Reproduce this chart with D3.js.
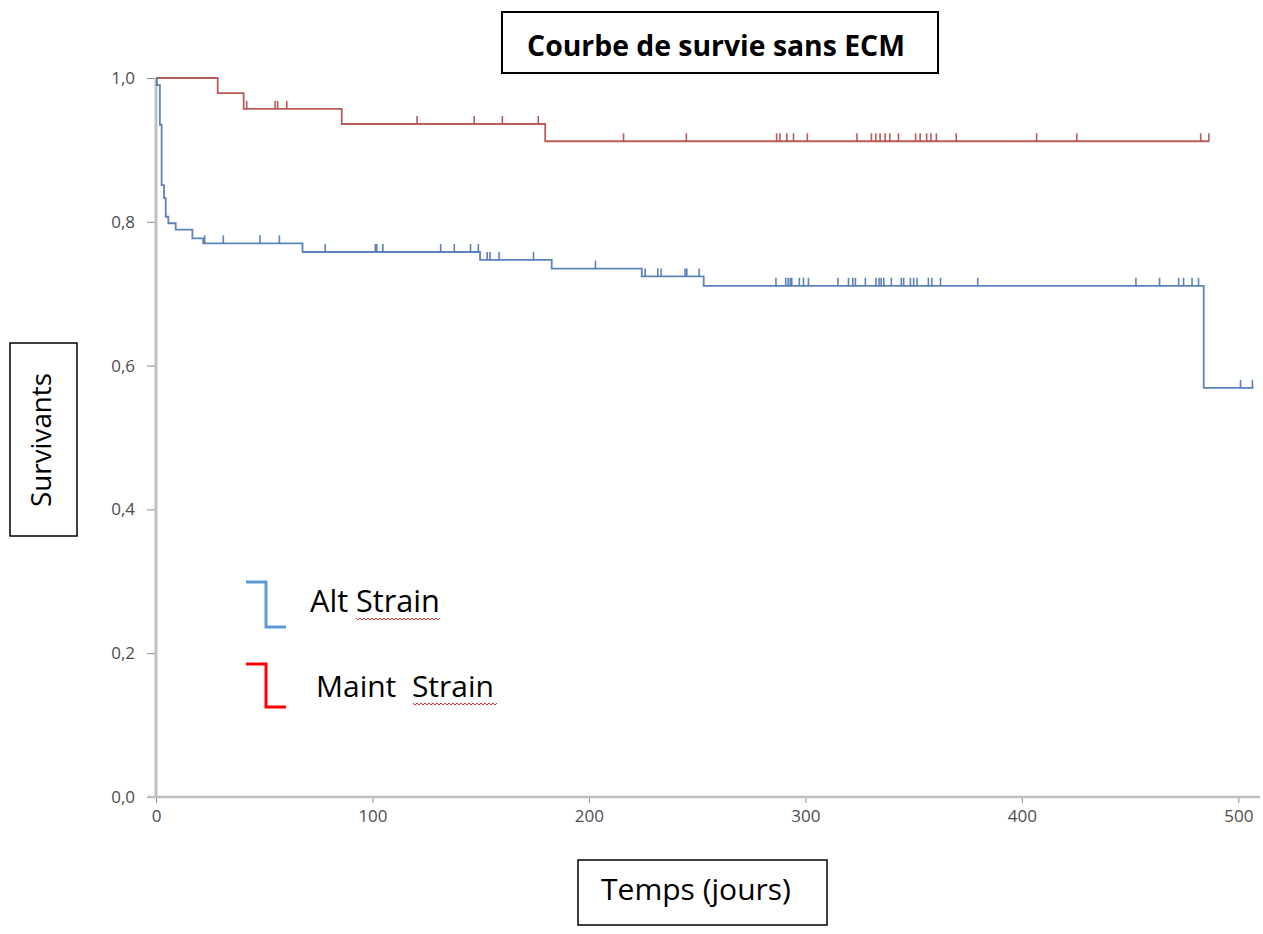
<!DOCTYPE html>
<html><head><meta charset="utf-8">
<script src="https://cdn.jsdelivr.net/npm/d3@7/dist/d3.min.js"></script>
<style>html,body{margin:0;padding:0;background:#fff;}svg{display:block;}</style>
</head><body>
<svg id="chart" width="1263" height="934"></svg>
<script>
// ---- data ----
const yTicks = [0, 0.2, 0.4, 0.6, 0.8, 1.0];
const xTicks = [0, 100, 200, 300, 400, 500];
const altTimes = [0, 0.4, 1.8, 2.6, 3.7, 4.5, 5.7, 9.1, 16.8, 21.8, 67.7, 149.7, 182.8, 224.4, 253, 484, 507];
const altSurv  = [1.0, 0.99, 0.935, 0.851, 0.833, 0.807, 0.798, 0.789, 0.777, 0.770, 0.758, 0.747, 0.735, 0.724, 0.711, 0.569, 0.569];
const altCensor = [22.5, 31.1, 48, 57, 78.2, 101.3, 102, 104.8, 131.5, 137.8, 145.3, 148.9, 153, 154.3, 158.5, 174.4, 203, 226, 231.8, 233.4, 244.4, 245.2, 250.9, 286.4, 290.9, 292, 293, 293.7, 297.2, 299.1, 301.4, 315, 319.9, 321.9, 323.1, 327.7, 332.6, 334, 335, 336.2, 339.7, 344.3, 345.4, 348.5, 350, 351.6, 356.8, 358.4, 362.4, 379.6, 452.7, 463.6, 472.4, 474.7, 478.6, 481.6, 501, 506.5];
const maintTimes = [0, 28.5, 40.5, 85.8, 179.8, 486.5];
const maintSurv  = [1.0, 0.979, 0.957, 0.936, 0.912, 0.912];
const maintCensor = [41.9, 55, 56.2, 60.4, 120.6, 147, 160, 176.6, 216, 245, 286.7, 288.2, 291.4, 294.5, 300.9, 323.8, 330.5, 332.5, 334.5, 336.8, 339, 343, 350.9, 353, 356, 358, 360.5, 369.7, 406.8, 425.4, 482.6, 486.4];
const seriesNames = ["Alt Strain", "Maint  Strain"];
const titleText = "Courbe de survie sans ECM";
const yLabel = "Survivants";
const xLabel = "Temps (jours)";

// ---- layout ----
const svg = d3.select("#chart");
const x = d3.scaleLinear().domain([0, 510]).range([156, 1260]);
const y = d3.scaleLinear().domain([0, 1]).range([797, 78]);
const fmt = d => d.toFixed(1).replace(".", ",");

function fitText(sel, w) {
  const len = sel.node().getComputedTextLength();
  const fs = parseFloat(sel.attr("font-size"));
  sel.attr("font-size", fs * w / len);
}

// y axis
const yAxis = d3.axisLeft(y).tickValues(yTicks).tickFormat(fmt).tickSize(9).tickPadding(12);
const gy = svg.append("g").attr("transform", `translate(${x(0)},0)`).call(yAxis);
gy.select(".domain").remove();
gy.selectAll(".tick line").attr("stroke", "#8c8c8c").attr("stroke-width", 1);
gy.selectAll(".tick text").attr("fill", "#4d4d4d").attr("font-size", 17).attr("font-family", "Open Sans, sans-serif");
svg.append("line").attr("x1", x(0)).attr("x2", x(0)).attr("y1", y(1)).attr("y2", y(0))
  .attr("stroke", "#bfbfbf").attr("stroke-width", 3);

// x axis
const xAxis = d3.axisBottom(x).tickValues(xTicks).tickFormat(d3.format("d")).tickSize(6).tickPadding(7);
const gx = svg.append("g").attr("transform", `translate(0,${y(0)})`).call(xAxis);
gx.select(".domain").remove();
gx.selectAll(".tick line").attr("stroke", "#8c8c8c");
gx.selectAll(".tick text").attr("fill", "#4d4d4d").attr("font-size", 17).attr("font-family", "Open Sans, sans-serif");
svg.append("line").attr("x1", x(0) - 8).attr("x2", x(510)).attr("y1", y(0)).attr("y2", y(0))
  .attr("stroke", "#bfbfbf").attr("stroke-width", 2.5);

// curves
function survAt(times, surv, t) {
  const i = d3.bisectRight(times, t) - 1;
  return surv[Math.max(0, i)];
}
function drawSeries(times, surv, censor, color) {
  const pts = times.map((t, i) => [t, surv[i]]);
  const line = d3.line().x(d => x(d[0])).y(d => y(d[1])).curve(d3.curveStepAfter);
  svg.append("path").attr("d", line(pts)).attr("fill", "none")
    .attr("stroke", color).attr("stroke-width", 1.8).attr("opacity", 0.9);
  svg.append("g").selectAll("line").data(censor).join("line")
    .attr("x1", d => x(d)).attr("x2", d => x(d))
    .attr("y1", d => y(survAt(times, surv, d)))
    .attr("y2", d => y(survAt(times, surv, d)) - 8)
    .attr("stroke", color).attr("stroke-width", 1.6).attr("opacity", 0.9);
}
drawSeries(maintTimes, maintSurv, maintCensor, "#b24a48");
drawSeries(altTimes, altSurv, altCensor, "#4a76b3");

// title box
svg.append("rect").attr("x", 502).attr("y", 12).attr("width", 436).attr("height", 61)
  .attr("fill", "#fff").attr("stroke", "#000").attr("stroke-width", 2);
const tt = svg.append("text").attr("x", 716).attr("y", 56).attr("text-anchor", "middle")
  .attr("font-family", "Open Sans, sans-serif").attr("font-weight", "bold").attr("font-size", 20)
  .attr("fill", "#000").text(titleText);
fitText(tt, 378);

// y label box
svg.append("rect").attr("x", 10).attr("y", 343).attr("width", 67).attr("height", 193)
  .attr("fill", "#fff").attr("stroke", "#000").attr("stroke-width", 1.5);
const yl = svg.append("text").attr("transform", "translate(51,440) rotate(-90)").attr("text-anchor", "middle")
  .attr("font-family", "Open Sans, sans-serif").attr("font-size", 20).attr("fill", "#000").text(yLabel);
fitText(yl, 134);

// x label box
svg.append("rect").attr("x", 578).attr("y", 860).attr("width", 249).attr("height", 65)
  .attr("fill", "#fff").attr("stroke", "#000").attr("stroke-width", 1.5);
const xl = svg.append("text").attr("x", 696).attr("y", 900).attr("text-anchor", "middle")
  .attr("font-family", "Open Sans, sans-serif").attr("font-size", 20).attr("fill", "#000").text(xLabel);
fitText(xl, 190);

// legend
const legend = [
  {name: seriesNames[0], color: "#5b9bd5", y0: 582, y1: 627, tx: 310, ty: 612, sx: 356, sw: 84},
  {name: seriesNames[1], color: "#ff0000", y0: 664, y1: 707, tx: 316, ty: 697, sx: 413, sw: 81}
];
legend.forEach(L => {
  svg.append("path").attr("d", `M246,${L.y0}H266V${L.y1}H286`).attr("fill", "none")
    .attr("stroke", L.color).attr("stroke-width", 3);
  const t = svg.append("text").attr("x", L.tx).attr("y", L.ty).attr("font-family", "Open Sans, sans-serif")
    .attr("font-size", 22).attr("fill", "#000").attr("xml:space", "preserve").style("white-space", "pre").text(L.name);
  fitText(t, L.sx + L.sw - L.tx);
  // spell-check squiggle
  let d = `M${L.sx},${L.ty + 6}`;
  for (let k = 0; k < L.sw / 4; k++) d += `l2,2l2,-2`;
  svg.append("path").attr("d", d).attr("fill", "none").attr("stroke", "#e03030").attr("stroke-width", 1);
});
</script>
</body></html>
